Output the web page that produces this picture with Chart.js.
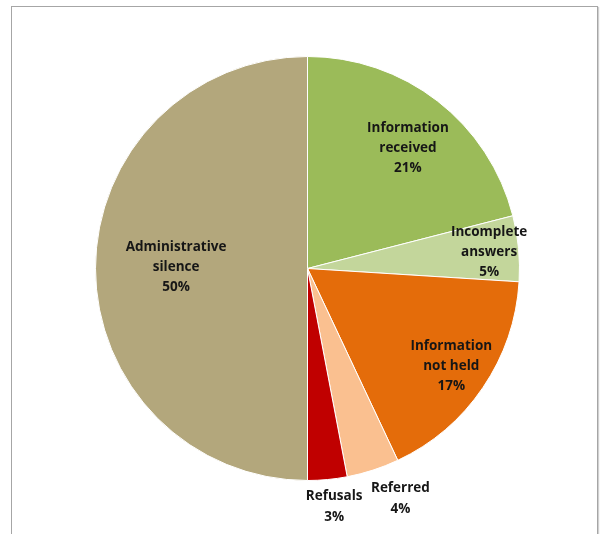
<!DOCTYPE html>
<html>
<head>
<meta charset="utf-8">
<script src="https://cdn.jsdelivr.net/npm/chart.js@4"></script>
<style>
html,body{margin:0;padding:0;background:#fff;overflow:hidden;}
#wrap{position:relative;width:600px;height:534px;}
#frame{position:absolute;left:11px;top:6px;width:585px;height:560px;border:1px solid #a6a6a6;box-shadow:1px 1px 1px #d0d0d0;}
canvas{position:absolute;left:0;top:0;}
</style>
</head>
<body>
<div id="wrap">
<div id="frame"></div>
<canvas id="c" width="600" height="534"></canvas>
</div>
<script>
const categories = [
  ["Information", "received"],
  ["Incomplete", "answers"],
  ["Information", "not held"],
  ["Referred"],
  ["Refusals"],
  ["Administrative", "silence"]
];
const values = [21, 5, 17, 4, 3, 50];
const percentLabels = ["21%", "5%", "17%", "4%", "3%", "50%"];
const colors = ["#9BBB59", "#C3D69B", "#E46C0A", "#FAC090", "#C00000", "#B3A77C"];
// label placement (fraction of radius from centre) and angular nudge (deg)
const labelRadius = [0.74, 0.86, 0.82, 1.17, 1.13, 0.62];
const labelAngleShift = [2, 0.3, 0, -4, -1, 0.8];

const labelPlugin = {
  id: 'pieLabels',
  afterDatasetsDraw(chart) {
    const ctx = chart.ctx;
    const meta = chart.getDatasetMeta(0);
    ctx.save();
    ctx.font = 'bold 13.5px "Open Sans", Lato, sans-serif';
    ctx.fillStyle = '#161616';
    ctx.textAlign = 'center';
    ctx.textBaseline = 'middle';
    const lh = 20;
    meta.data.forEach((arc, i) => {
      const p = arc.getProps(['x','y','startAngle','endAngle','outerRadius'], true);
      const mid = (p.startAngle + p.endAngle) / 2 + labelAngleShift[i] * Math.PI / 180;
      const r = p.outerRadius * labelRadius[i];
      const cx = p.x + Math.cos(mid) * r;
      const cy = p.y + Math.sin(mid) * r;
      const lines = categories[i].concat([percentLabels[i]]);
      const lhh = lines.length === 2 ? 21 : lh;
      const y0 = cy - (lines.length - 1) * lhh / 2;
      lines.forEach((t, k) => ctx.fillText(t, cx, y0 + k * lhh));
    });
    ctx.restore();
  }
};

new Chart(document.getElementById('c'), {
  type: 'pie',
  data: {
    labels: categories.map(c => c.join(' ')),
    datasets: [{
      data: values,
      backgroundColor: colors,
      borderColor: '#ffffff',
      borderWidth: 1
    }]
  },
  options: {
    responsive: false,
    animation: false,
    layout: { padding: { left: 95, right: 80, top: 56, bottom: 53 } },
    plugins: { legend: { display: false }, tooltip: { enabled: false } }
  },
  plugins: [labelPlugin]
});
</script>
</body>
</html>
